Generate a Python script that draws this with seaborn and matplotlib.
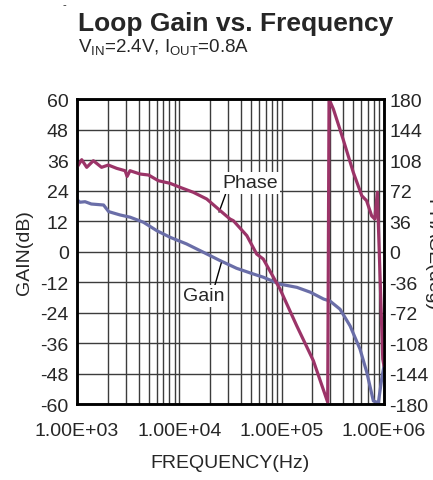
import matplotlib
matplotlib.use("Agg")
import matplotlib.pyplot as plt
from matplotlib.ticker import FixedLocator, NullFormatter, LogLocator
import pandas as pd
import seaborn as sns

# gain curve (Hz, dB)
gain_freq = [1000, 1070, 1200, 1380, 1820, 2040, 2630, 3310, 4470, 6030, 8130,
             11750, 17200, 25100, 36300, 52500, 66100, 95500, 141000, 190500,
             257000, 297000, 372000, 467000, 583000, 679000, 787000, 881000,
             951000, 1000000]
gain_db = [20.4, 19.4, 19.6, 18.7, 18.3, 15.7, 14.4, 13.5, 11.5, 8.2, 5.6,
           3.0, -0.3, -3.6, -6.6, -8.8, -10.1, -12.8, -14.1, -16.0,
           -18.7, -19.5, -22.7, -29.3, -38.4, -47.5, -58.8, -59.5,
           -50.0, -45.0]

# phase curve (Hz, deg)
phase_freq = [1000, 1112, 1245, 1445, 1738, 2023, 2443, 2951, 3090, 3296, 4130,
              5012, 6237, 8128, 10160, 13710, 18530, 25120, 31260, 33730, 45710,
              57020, 66070, 96390, 140300, 204200, 281800, 290400, 320600,
              398100, 501200, 606700, 676100, 758600, 812800, 861000, 901600,
              972800, 1000000]
phase_deg = [99.4, 108.4, 99.4, 107.2, 99.4, 102.1, 98.2, 95.4, 88.7, 95.4, 91.5,
             90.3, 83.6, 80.5, 75.8, 69.9, 62.0, 48.2, 38.4, 36.4, 18.7,
             -3.0, -8.8, -44.3, -87.6, -128.9, -178.0, 180.0, 168.0,
             132.8, 93.5, 65.9, 60.0, 42.0, 38.4, 70.0, -5.0,
             -127.0, -135.0]

x_ticks = [1e3, 1e4, 1e5, 1e6]
x_labels = ["1.00E+03", "1.00E+04", "1.00E+05", "1.00E+06"]
gain_ticks = [60, 48, 36, 24, 12, 0, -12, -24, -36, -48, -60]
phase_ticks = [180, 144, 108, 72, 36, 0, -36, -72, -108, -144, -180]

gain_df = pd.DataFrame({"freq": gain_freq, "gain": gain_db})
phase_df = pd.DataFrame({"freq": phase_freq, "phase": phase_deg})

sns.set_style("white")
plt.rcParams["font.family"] = ["Liberation Sans", "DejaVu Sans"]
plt.rcParams["mathtext.fontset"] = "custom"
plt.rcParams["mathtext.rm"] = "Liberation Sans"
plt.rcParams["axes.unicode_minus"] = False

fig = plt.figure(figsize=(4.33, 4.81), dpi=100)
ax = fig.add_axes([0.1778, 0.158, 0.709, 0.634])
ax2 = ax.twinx()

gain_col = "#6a6ea8"
phase_col = "#9b3468"

sns.lineplot(data=gain_df, x="freq", y="gain", ax=ax, color=gain_col, linewidth=2.3)
sns.lineplot(data=phase_df, x="freq", y="phase", ax=ax2, color=phase_col, linewidth=2.3)

ax.set_xscale("log")
ax.set_xlim(1e3, 1e6)
ax.set_ylim(-60, 60)
ax2.set_ylim(-180, 180)

ax.xaxis.set_major_locator(FixedLocator(x_ticks))
ax.set_xticklabels(x_labels)
ax.xaxis.set_minor_locator(LogLocator(base=10, subs=range(2, 10)))
ax.xaxis.set_minor_formatter(NullFormatter())
ax.set_yticks(gain_ticks)
ax2.set_yticks(phase_ticks)

ax.grid(which="both", axis="x", color="#3c3c3c", linewidth=1.0)
ax.grid(which="major", axis="y", color="#3c3c3c", linewidth=1.0)
ax.set_axisbelow(True)

ax.tick_params(axis="x", which="both", length=0, pad=13, labelsize=14)
ax.tick_params(axis="y", length=0, pad=6, labelsize=14)
ax2.tick_params(axis="y", length=0, pad=4, labelsize=14)

for a in (ax, ax2):
    for s in a.spines.values():
        s.set_color("black")
        s.set_linewidth(1.8)

ax.set_xlabel("FREQUENCY(Hz)", fontsize=14, labelpad=11)
ax.set_ylabel("GAIN(dB)", fontsize=14, labelpad=5)
ax2.set_ylabel("")
# right axis title runs off the edge, as in the source figure
fig.text(423 / 433, 0.47, "PHASE(deg)", rotation=270, ha="left", va="center",
         fontsize=14)

# curve labels with leader lines
ax.annotate("Phase", xy=(10**4.388, 15.5), xytext=(10**4.69, 27.0),
            fontsize=14, ha="center", va="center",
            bbox=dict(boxstyle="square,pad=0.12", fc="white", ec="none"),
            arrowprops=dict(arrowstyle="-", color="black", lw=1.0,
                            shrinkA=0, shrinkB=0, relpos=(0.08, 0.0)))
ax.annotate("Gain", xy=(10**4.41, -4.5), xytext=(10**4.24, -17.5),
            fontsize=14, ha="center", va="center",
            bbox=dict(boxstyle="square,pad=0.12", fc="white", ec="none"),
            arrowprops=dict(arrowstyle="-", color="black", lw=1.0,
                            shrinkA=0, shrinkB=0, relpos=(0.75, 1.0)))

fig.text(78 / 433, 1 - 31 / 481, "Loop Gain vs. Frequency", fontsize=19,
         fontweight="bold", ha="left", va="baseline")
fig.text(78 / 433, 1 - 53 / 481,
         r"V$_{\mathrm{IN}}$=2.4V, I$_{\mathrm{OUT}}$=0.8A", fontsize=13.5,
         ha="left", va="baseline")
fig.text(64 / 433, 1 - 8 / 481, "-", fontsize=8, ha="center", va="baseline")

fig.savefig("out.png", dpi=100)
